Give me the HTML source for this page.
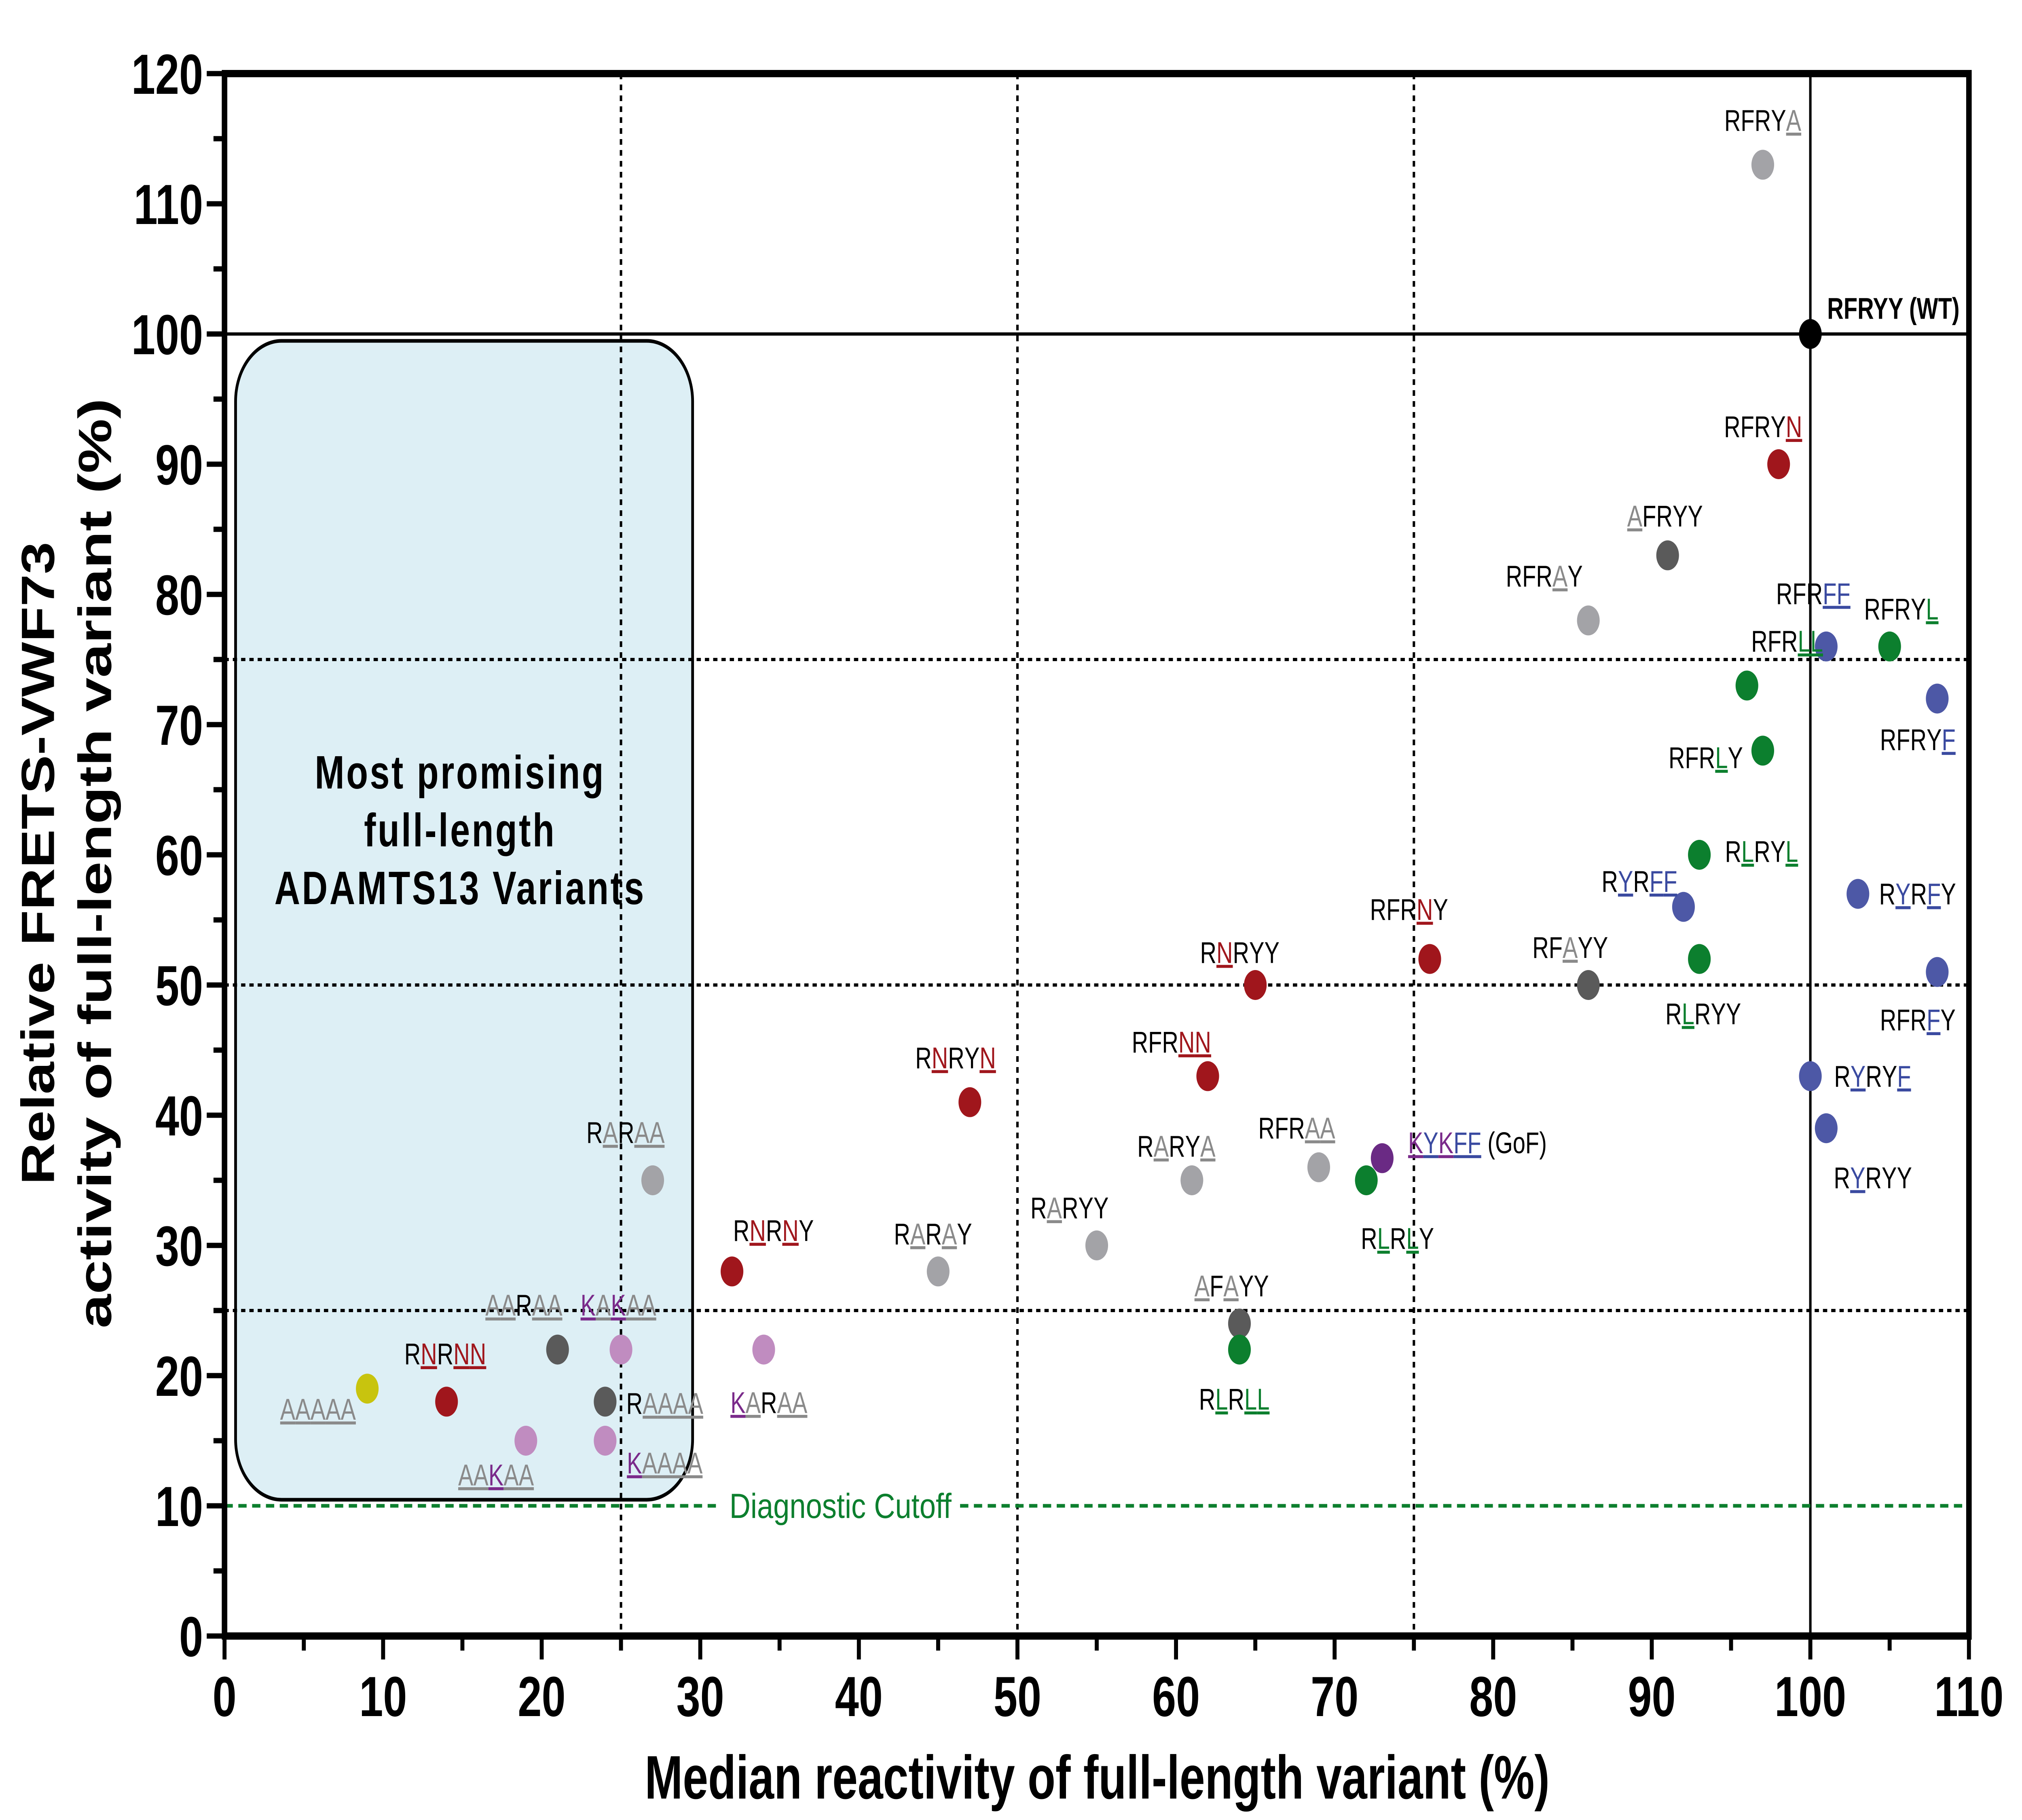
<!DOCTYPE html>
<html><head><meta charset="utf-8"><style>
html,body{margin:0;padding:0;background:#fff;width:100%;height:100%;overflow:hidden}
svg{display:block;width:100vw;height:100vh;overflow:hidden}
text{font-family:"Liberation Sans",Arial,sans-serif}
</style></head><body>
<svg id="chart" xmlns="http://www.w3.org/2000/svg" viewBox="0 0 6592 4501" preserveAspectRatio="none">
<rect x="0" y="0" width="6592" height="4501" fill="#fff"/>
<rect x="768" y="843" width="1490" height="2866" rx="150" ry="150" fill="#ddeff5" stroke="#000" stroke-width="9"/>
<g font-weight="bold" font-size="116" text-anchor="middle" letter-spacing="6">
<text x="1500" y="1950">Most promising</text>
<text x="1500" y="2093">full-length</text>
<text x="1500" y="2236">ADAMTS13 Variants</text>
</g>
<g id="grid"></g>
<g id="cutoff"></g>
<g id="points"></g>
<g id="labels"></g>
<g id="axes"></g>
<text x="3577" y="4448" font-size="152" font-weight="bold" text-anchor="middle" textLength="2950" lengthAdjust="spacingAndGlyphs">Median reactivity of full-length variant (%)</text>
<g font-size="152" font-weight="bold" text-anchor="middle">
<text transform="translate(176,2135) rotate(-90)" textLength="1590" lengthAdjust="spacingAndGlyphs">Relative FRETS-VWF73</text>
<text transform="translate(362,2135) rotate(-90)" textLength="2300" lengthAdjust="spacingAndGlyphs">activity of full-length variant (%)</text>
</g>
</svg>
<script>
const names = ["RFRYY","RFRYA","RFRYN","AFRYY","RFRAY","RFRFF","RFRYL","RFRLL","RFRYF","RFRLY","RLRYL","RYRFF","RYRFY","RFRNY","RNRYY","RFAYY","RLRYY","RFRFY","RFRNN","RNRYN","RYRYF","RYRYY","RARAA","RARYA","RFRAA","KYKFF","RLRLY","RNRNY","RARAY","RARYY","AFAYY","RLRLL","AARAA","KAKAA","KARAA","RNRNN","AAAAA","RAAAA","AAKAA","KAAAA"];
const reactivity = [100,97,98,91,86,101,105,96,108,97,93,92,103,76,65,86,93,108,62,47,100,101,27,61,69,73,72,32,45,55,64,64,21,25,34,14,9,24,19,24];
const activity = [100,113,90,83,78,76,76,73,72,68,60,56,57,52,50,50,52,51,43,41,43,39,35,35,36,36.7,35,28,28,30,24,22,22,22,22,18,19,18,15,15];
const groups = ["wt","lgray","red","dgray","lgray","blue","green","green","blue","green","green","blue","blue","red","red","dgray","green","blue","red","red","blue","blue","lgray","lgray","lgray","purple","green","red","lgray","lgray","dgray","green","dgray","pink","pink","red","yellow","dgray","pink","pink"];
const xTicks = [0,10,20,30,40,50,60,70,80,90,100,110];
const yTicks = [0,10,20,30,40,50,60,70,80,90,100,110,120];
const quartileX = [25,50,75];
const quartileY = [25,50,75];
const cutoffY = [10];
// label offsets (layout, in reference display units)
const lblOff = [[13,-15],[0,-26],[-12,-22],[-2,-23],[-34,-26],[-10,-31],[9,-22],[31,-26],[-15,24],[-44,4],[48,-2],[-34,-15],[46,0],[-16,-29],[-12,-19],[-14,-22],[3,32],[-15,28],[-28,-20],[-11,-26],[48,0],[36,29],[-21,-28],[-12,-20],[-17,-23],[20,-9],[24,34],[32,-24],[-4,-22],[-21,-22],[-6,-22],[-4,29],[-26,-26],[-2,-26],[4,31],[-1,-28],[-38,12],[46,1],[-23,20],[46,13]];

const NS="http://www.w3.org/2000/svg";
const X0=732,XS=51.7,Y0=4046,YS=32.2,K=4.225;
const xs=v=>X0+v*XS, ys=v=>Y0-v*YS;
const L=xs(0),R=xs(110),T=ys(120),B=ys(0);
const colors={wt:"#000",lgray:"#a3a3a7",dgray:"#5a5a5a",red:"#a0161c",blue:"#4d58a6",green:"#0c7f2e",purple:"#6a2a84",pink:"#c08cc0",yellow:"#c8c40e"};
const letterCol={A:"#8a8a8a",N:"#a0161c",L:"#0c7f2e",F:"#3a4aa0",Y:"#3a4aa0",K:"#7a2a8a"};
function mk(tag,attrs,parent){const e=document.createElementNS(NS,tag);for(const k in attrs)e.setAttribute(k,attrs[k]);parent.appendChild(e);return e;}

const grid=document.getElementById('grid');
quartileX.forEach(v=>{const l=mk('line',{x1:xs(v),x2:xs(v),y1:T,y2:B,stroke:'#000','stroke-width':8,'stroke-dasharray':'14 13'},grid);

});
quartileY.forEach(v=>{const l=mk('line',{x1:L,x2:R,y1:ys(v),y2:ys(v),stroke:'#000','stroke-width':8,'stroke-dasharray':'14 13'},grid);

});
{const l=mk('line',{x1:xs(100),x2:xs(100),y1:T,y2:B,stroke:'#000','stroke-width':8},grid);


const h=mk('line',{x1:L,x2:R,y1:ys(100),y2:ys(100),stroke:'#000','stroke-width':8},grid);

}

const cut=document.getElementById('cutoff');
cutoffY.forEach(v=>{
const l1=mk('line',{x1:L,x2:2340,y1:ys(v),y2:ys(v),stroke:'#0c7f2e','stroke-width':9,'stroke-dasharray':'27 18'},cut);


const l2=mk('line',{x1:3130,x2:R,y1:ys(v),y2:ys(v),stroke:'#0c7f2e','stroke-width':9,'stroke-dasharray':'27 18'},cut);


const t=mk('text',{x:2378,y:ys(v)+30,'font-size':86,fill:'#0c7f2e',textLength:724,lengthAdjust:'spacingAndGlyphs'},cut);
t.textContent='Diagnostic Cutoff';

});

const pts=document.getElementById('points'),lbls=document.getElementById('labels');
const WT="RFRYY";
names.forEach((n,i)=>{
const c=mk('circle',{cx:xs(reactivity[i]),cy:ys(activity[i]),r:37,fill:colors[groups[i]]},pts);


const wt=i===0, gof=n==="KYKFF";
const anchor=(wt||gof)?'start':'middle';
const t=mk('text',{x:xs(reactivity[i])+lblOff[i][0]*K,y:ys(activity[i])+lblOff[i][1]*K+26,'font-size':74,'text-anchor':anchor,fill:'#000'},lbls);


if(wt){t.setAttribute('font-weight','bold');t.textContent='RFRYY (WT)';return;}
for(let k=0;k<5;k++){const s=mk('tspan',{},t);s.textContent=n[k];
if(n[k]!==WT[k]){s.setAttribute('fill',letterCol[n[k]]||'#888');s.setAttribute('text-decoration','underline');}}
if(gof){const s=mk('tspan',{},t);s.textContent=' (GoF)';}
});

const ax=document.getElementById('axes');
const fr=mk('rect',{x:L,y:T,width:R-L,height:B-T,fill:'none',stroke:'#000','stroke-width':18},ax);


xTicks.forEach((v,i)=>{
mk('line',{x1:xs(v),x2:xs(v),y1:B,y2:B+58,stroke:'#000','stroke-width':13},ax);
if(i<xTicks.length-1)mk('line',{x1:xs(v+5),x2:xs(v+5),y1:B,y2:B+36,stroke:'#000','stroke-width':13},ax);
const t=mk('text',{x:xs(v),y:4244,'font-size':140,'font-weight':'bold','text-anchor':'middle'},ax);
t.textContent=v;

});
yTicks.forEach((v,i)=>{
mk('line',{x1:L-58,x2:L,y1:ys(v),y2:ys(v),stroke:'#000','stroke-width':13},ax);
if(i<yTicks.length-1)mk('line',{x1:L-36,x2:L,y1:ys(v+5),y2:ys(v+5),stroke:'#000','stroke-width':13},ax);
const t=mk('text',{x:662,y:ys(v)+50,'font-size':140,'font-weight':'bold','text-anchor':'end'},ax);
t.textContent=v;

});
</script>
</body></html>
